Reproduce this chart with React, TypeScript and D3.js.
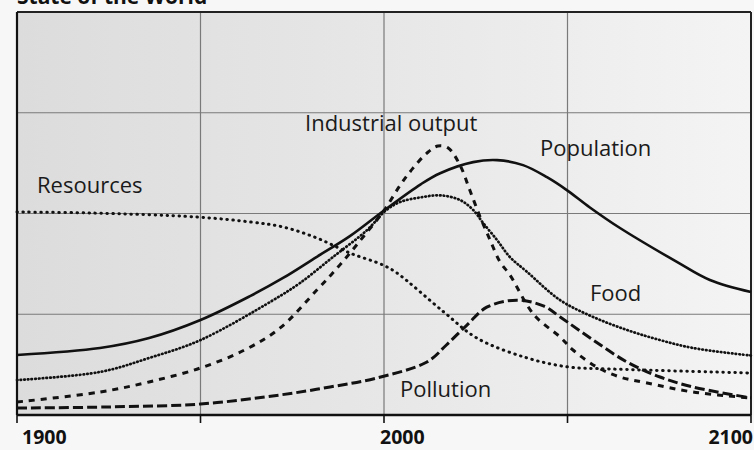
import React from "react";
import * as d3 from "d3";

const title = "State of the World";
const xTickLabels = ["1900", "2000", "2100"];
const gridYears = [1950, 2000, 2050];
const tickYears = [1900, 1950, 2000, 2050, 2100];
const gridValues = [100, 200, 300];

const populationYears = [1900, 1922.6, 1936, 1950, 1963.5, 1972.5, 1981.7, 1990.7, 2000, 2010, 2015.3, 2024.3, 2030.8, 2037.9, 2044.4, 2049.9, 2056.1, 2064.3, 2079.8, 2088.8, 2100];
const populationValues = [59.6, 66.5, 76.4, 94.3, 118, 136, 157, 177.5, 203, 229, 240, 251, 253, 248, 236, 223, 206, 185.6, 152, 134, 122];

const industrialYears = [1900, 1922.6, 1936, 1950, 1962, 1971.7, 1981.7, 1988, 1994.3, 2000, 2004.4, 2007.9, 2011.7, 2014.7, 2017.5, 2020.7, 2023.4, 2026.2, 2028.9, 2031.6, 2034.3, 2040.9, 2048, 2051.5, 2058, 2064.3, 2071.7, 2084.2, 2100];
const industrialValues = [12.9, 22.8, 32.8, 46.7, 64.5, 86.4, 124, 149, 176.7, 203, 228, 245, 260, 267, 265, 248, 223, 196.5, 173.7, 152, 139, 99.3, 77.4, 64.5, 47.6, 37.7, 31.8, 22.8, 16.9];

const foodYears = [1900, 1922.6, 1936, 1950, 1969.8, 1977.1, 1986.1, 1995.4, 2000.5, 2004.4, 2010, 2015.3, 2020.7, 2024.3, 2027, 2030.8, 2034.3, 2039, 2048, 2057, 2066.2, 2075.2, 2084.2, 2100];
const foodValues = [34.7, 42.7, 56.6, 74.4, 114, 131, 156.8, 183.6, 203, 211.4, 216, 218, 213.4, 203.5, 190.6, 173.7, 156.8, 142, 114, 97.3, 84.4, 74.4, 66.5, 59];

const resourcesYears = [1900, 1920, 1949, 1963.5, 1972.5, 1981.7, 1990.7, 1999.7, 2003.5, 2016.3, 2025.3, 2039, 2050.4, 2061.6, 2100];
const resourcesValues = [201.5, 200.5, 196.5, 191.6, 186.6, 175.7, 160.8, 148.9, 141, 102.2, 76.4, 56.6, 47.6, 45.7, 41.7];

const pollutionYears = [1900, 1925, 1950, 1971.7, 1985.3, 1998, 2011.7, 2017, 2022.6, 2028, 2036.2, 2043.6, 2048, 2057, 2066.2, 2075.2, 2084.2, 2100];
const pollutionValues = [6.9, 8, 10.9, 19.9, 27.8, 36.7, 52.6, 69.5, 89.3, 107, 114, 108, 97.3, 74.4, 52.6, 37.7, 27.8, 17];

const seriesLabels = ["Resources", "Industrial output", "Population", "Food", "Pollution"];

const W = 754;
const H = 450;
const left = 17;
const right = 751;
const top = 12;
const bottom = 415;

const x = d3.scaleLinear().domain([1900, 2100]).range([left, right]);
const y = d3.scaleLinear().domain([0, 400]).range([bottom, top]);

function pathFor(years: number[], values: number[]) {
  const pts = years.map((yr, i) => [yr, values[i]] as [number, number]);
  return d3
    .line<[number, number]>()
    .x((d) => x(d[0]))
    .y((d) => y(d[1]))
    .curve(d3.curveCatmullRom.alpha(0.5))(pts) as string;
}

const font = "'Open Sans', 'Noto Sans', sans-serif";

export default function App() {
  return (
    <svg
      width={W}
      height={H}
      style={{ position: "absolute", left: 0, top: 0, display: "block" }}
      viewBox={`0 0 ${W} ${H}`}
    >
      <defs>
        <linearGradient id="bg" x1="0" x2="1" y1="0" y2="0">
          <stop offset="0%" stopColor="#dcdcdc" />
          <stop offset="50%" stopColor="#e7e7e7" />
          <stop offset="100%" stopColor="#f4f4f4" />
        </linearGradient>
      </defs>
      <rect x={0} y={0} width={W} height={H} fill="#f7f7f7" />
      <rect x={left} y={top} width={right - left} height={bottom - top} fill="url(#bg)" />

      {gridYears.map((g) => (
        <line key={"gx" + g} x1={x(g)} x2={x(g)} y1={top} y2={bottom} stroke="#7a7a7a" strokeWidth={1.2} />
      ))}
      {gridValues.map((g) => (
        <line key={"gy" + g} x1={left} x2={right} y1={y(g)} y2={y(g)} stroke="#7a7a7a" strokeWidth={1.2} />
      ))}

      {/* frame */}
      <line x1={left} x2={right} y1={top} y2={top} stroke="#222" strokeWidth={2} />
      <line x1={left} x2={left} y1={top} y2={bottom} stroke="#111" strokeWidth={2.2} />
      <line x1={right} x2={right} y1={top} y2={bottom} stroke="#222" strokeWidth={2} />
      <line x1={left} x2={right} y1={bottom} y2={bottom} stroke="#111" strokeWidth={2.6} />
      {tickYears.map((t) => (
        <line key={"t" + t} x1={x(t)} x2={x(t)} y1={bottom} y2={bottom + 8} stroke="#111" strokeWidth={1.6} />
      ))}

      {/* series */}
      <path d={pathFor(resourcesYears, resourcesValues)} fill="none" stroke="#111" strokeWidth={3} strokeDasharray="0.5 5.5" strokeLinecap="round" />
      <path d={pathFor(foodYears, foodValues)} fill="none" stroke="#111" strokeWidth={2.7} strokeDasharray="0.6 3.1" strokeLinecap="round" />
      <path d={pathFor(pollutionYears, pollutionValues)} fill="none" stroke="#111" strokeWidth={3} strokeDasharray="10 4" />
      <path d={pathFor(industrialYears, industrialValues)} fill="none" stroke="#111" strokeWidth={3} strokeDasharray="6 6" />
      <path d={pathFor(populationYears, populationValues)} fill="none" stroke="#111" strokeWidth={2.6} />

      {/* labels */}
      <g fontFamily={font} fontSize={22} fill="#1a1a1a">
        <text x={37} y={193}>{seriesLabels[0]}</text>
        <text x={305} y={131}>{seriesLabels[1]}</text>
        <text x={540} y={156}>{seriesLabels[2]}</text>
        <text x={590} y={301}>{seriesLabels[3]}</text>
        <text x={400} y={397}>{seriesLabels[4]}</text>
      </g>

      <g fontFamily={font} fontSize={19.5} fontWeight="bold" fill="#111">
        <text x={x(1900) + 5} y={444}>{xTickLabels[0]}</text>
        <text x={x(2000) - 4} y={444}>{xTickLabels[1]}</text>
        <text x={x(2100) + 2} y={444} textAnchor="end">{xTickLabels[2]}</text>
      </g>

      <text x={17} y={4} fontFamily={font} fontSize={21} fontWeight="bold" fill="#111">{title}</text>
    </svg>
  );
}
